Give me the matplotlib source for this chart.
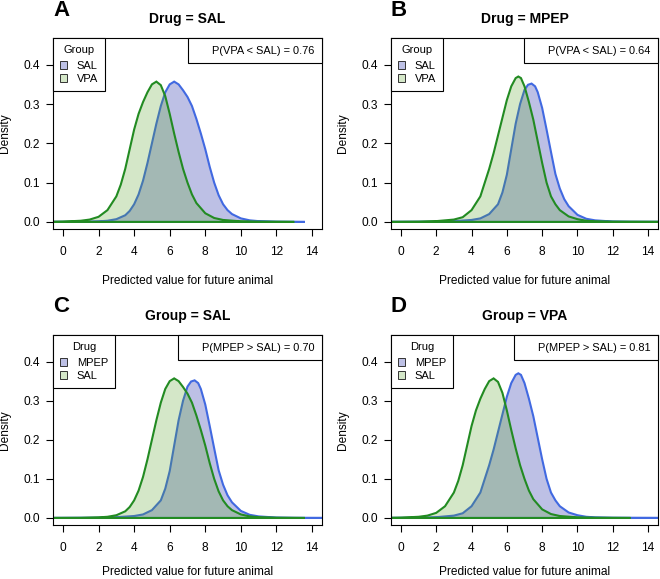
import numpy as np
import matplotlib
matplotlib.use('Agg')
import matplotlib.pyplot as plt
from matplotlib.patches import Patch

plt.rcParams['font.family'] = ['Liberation Sans', 'DejaVu Sans']

# posterior predictive densities
# Drug SAL, Group SAL
sal_sal_x = [-1.0, 1.0, 2.0, 2.5, 3.0, 3.5, 3.75, 4.0, 4.25, 4.5, 4.75, 5.0, 5.25, 5.5, 5.75, 6.0,
             6.25, 6.5, 6.75, 7.0, 7.25, 7.5, 7.75, 8.0, 8.25, 8.5, 8.75, 9.0, 9.25, 9.5, 10.0, 10.5,
             11.0, 12.0, 13.6]
sal_sal_y = [0.0, 0.0003, 0.0015, 0.003, 0.007, 0.017, 0.028, 0.045, 0.07, 0.105, 0.15, 0.2, 0.25,
             0.295, 0.33, 0.35, 0.357, 0.35, 0.335, 0.318, 0.295, 0.262, 0.225, 0.185, 0.14, 0.1,
             0.068, 0.045, 0.03, 0.02, 0.009, 0.004, 0.002, 0.0005, 0.0]
# Drug SAL, Group VPA
sal_vpa_x = [-1.0, 0.0, 1.0, 1.5, 2.0, 2.5, 3.0, 3.25, 3.5, 3.75, 4.0, 4.25, 4.5, 4.75, 5.0, 5.25,
             5.5, 5.75, 6.0, 6.25, 6.5, 6.75, 7.0, 7.25, 7.5, 8.0, 8.5, 9.0, 10.0, 11.0, 13.0]
sal_vpa_y = [0.0, 0.0008, 0.003, 0.006, 0.013, 0.03, 0.065, 0.095, 0.135, 0.185, 0.235, 0.275,
             0.305, 0.33, 0.35, 0.357, 0.348, 0.32, 0.275, 0.225, 0.178, 0.135, 0.1, 0.07, 0.048,
             0.022, 0.01, 0.005, 0.0015, 0.0005, 0.0]
# Drug MPEP, Group SAL
mpep_sal_x = [-1.0, 2.0, 3.0, 4.0, 4.5, 5.0, 5.5, 5.75, 6.0, 6.25, 6.5, 6.75, 7.0, 7.2, 7.4, 7.6,
              7.75, 8.0, 8.25, 8.5, 8.75, 9.0, 9.25, 9.5, 10.0, 10.5, 11.0, 12.0, 13.0, 15.5]
mpep_sal_y = [0.0, 0.0005, 0.002, 0.005, 0.009, 0.02, 0.045, 0.075, 0.12, 0.185, 0.25, 0.3, 0.336,
              0.349, 0.352, 0.345, 0.33, 0.29, 0.235, 0.178, 0.122, 0.085, 0.058, 0.04, 0.018,
              0.008, 0.004, 0.001, 0.0003, 0.0]
# Drug MPEP, Group VPA
mpep_vpa_x = [-1.0, 1.0, 2.0, 3.0, 3.5, 4.0, 4.5, 5.0, 5.25, 5.5, 5.75, 6.0, 6.25, 6.5, 6.65, 6.8,
              7.0, 7.25, 7.5, 7.75, 8.0, 8.25, 8.5, 8.75, 9.0, 9.5, 10.0, 10.5, 11.0, 12.0, 15.5]
mpep_vpa_y = [0.0, 0.0005, 0.002, 0.006, 0.012, 0.03, 0.065, 0.135, 0.175, 0.22, 0.265, 0.31,
              0.345, 0.366, 0.37, 0.366, 0.345, 0.305, 0.26, 0.205, 0.15, 0.1, 0.065, 0.045, 0.03,
              0.014, 0.007, 0.003, 0.0015, 0.0005, 0.0]

letters = ['A', 'B', 'C', 'D']
titles = ['Drug = SAL', 'Drug = MPEP', 'Group = SAL', 'Group = VPA']
leg_titles = ['Group', 'Group', 'Drug', 'Drug']
leg_labels = [['SAL', 'VPA'], ['SAL', 'VPA'], ['MPEP', 'SAL'], ['MPEP', 'SAL']]
probs = ['P(VPA < SAL) = 0.76', 'P(VPA < SAL) = 0.64', 'P(MPEP > SAL) = 0.70', 'P(MPEP > SAL) = 0.81']
first = [(sal_sal_x, sal_sal_y), (mpep_sal_x, mpep_sal_y), (mpep_sal_x, mpep_sal_y), (mpep_vpa_x, mpep_vpa_y)]
second = [(sal_vpa_x, sal_vpa_y), (mpep_vpa_x, mpep_vpa_y), (sal_sal_x, sal_sal_y), (sal_vpa_x, sal_vpa_y)]

xticks = [0, 2, 4, 6, 8, 10, 12, 14]
yticks = [0.0, 0.1, 0.2, 0.3, 0.4]

blue_line = '#4169E1'
blue_fill = '#bdc0e5'
green_line = '#228B22'
green_fill = (0.34, 0.64, 0.14, 0.25)

W, H = 660., 579.
# axes boxes in pixels: left, top, right, bottom
boxes = [(53, 38, 322, 229), (391, 38, 658, 229), (53, 335, 322, 525), (391, 335, 658, 525)]

fig = plt.figure(figsize=(6.6, 5.79), dpi=100)
for i in range(4):
    l, t, r, b = boxes[i]
    ax = fig.add_axes([l/W, 1-b/H, (r-l)/W, (b-t)/H])
    x1, y1 = first[i]
    x2, y2 = second[i]
    ax.fill(x1, y1, facecolor=blue_fill, edgecolor=blue_line, lw=1.5)
    ax.fill(x2, y2, facecolor=green_fill, edgecolor=green_line, lw=1.5)
    ax.set_xlim(-0.56, 14.56)
    ax.set_ylim(-0.018, 0.468)
    ax.set_xticks(xticks)
    ax.set_yticks(yticks)
    ax.set_yticklabels(['%.1f' % v for v in yticks])
    ax.tick_params(length=5, width=0.8, labelsize=8.6, color='k')
    ax.tick_params(axis='x', pad=7.5)
    ax.tick_params(axis='y', pad=4)
    for s in ax.spines.values():
        s.set_linewidth(0.8)
    # bottom row sits at the figure edge, keep its label just inside
    ax.set_xlabel('Predicted value for future animal', fontsize=8.6,
                  labelpad=12 if i < 2 else 8.5)
    ax.set_ylabel('Density', fontsize=8.6, labelpad=9)

    handles = [Patch(facecolor=blue_fill, edgecolor='#333333', lw=0.7),
               Patch(facecolor=green_fill, edgecolor='#333333', lw=0.7)]
    leg = ax.legend(handles, leg_labels[i], title=leg_titles[i], loc='upper left',
                    fontsize=8, title_fontsize=8, borderaxespad=0, borderpad=0.65,
                    handlelength=0.65, handleheight=0.65, handletextpad=0.85,
                    labelspacing=0.3, fancybox=False, framealpha=1, edgecolor='k')
    leg.get_frame().set_linewidth(0.8)
    leg._legend_box.sep = 4.0
    ax.add_artist(leg)
    pleg = ax.legend([Patch(alpha=0)], [probs[i]], loc='upper right', fontsize=7.9,
                     borderaxespad=0, borderpad=0.7, handlelength=1.1, handletextpad=0.4,
                     fancybox=False, framealpha=1, edgecolor='k')
    pleg.get_frame().set_linewidth(0.8)

    fig.text((l+r)/2/W, 1-(t-19)/H, titles[i], ha='center', va='center',
             fontsize=10, fontweight='bold')
    fig.text(l/W, 1-(t-28)/H, letters[i], ha='left', va='center',
             fontsize=16, fontweight='bold')

fig.savefig('out.png', dpi=100)
